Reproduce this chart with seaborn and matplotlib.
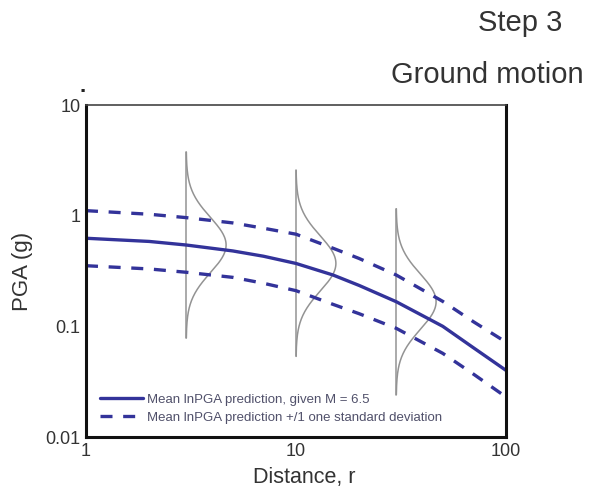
import numpy as np
import pandas as pd
import matplotlib
matplotlib.use("Agg")
import matplotlib.pyplot as plt
import seaborn as sns

# ---- data ----
distance = [1, 2, 3, 5, 7, 10, 15, 20, 30, 50, 70, 100]
mean_pga = [0.625, 0.585, 0.543, 0.48, 0.43, 0.37, 0.291, 0.234, 0.167, 0.10, 0.064, 0.040]
upper_pga = [1.11, 1.03, 0.96, 0.86, 0.77, 0.68, 0.508, 0.41, 0.291, 0.168, 0.11, 0.072]
lower_pga = [0.353, 0.33, 0.308, 0.277, 0.245, 0.21, 0.158, 0.13, 0.096, 0.057, 0.037, 0.023]
pdf_distances = [3, 10, 30]          # where the lognormal distributions are drawn
pdf_centres = [0.543, 0.37, 0.167]
sigma_log10 = 0.25                   # one standard deviation, in log10 units
pdf_halfspan = 0.84                  # truncation, in log10 units
pdf_width = 0.19                     # peak width, in decades of distance

x_ticks = [1, 10, 100]
x_ticklabels = ["1", "10", "100"]
y_ticks = [0.01, 0.1, 1, 10]
y_ticklabels = ["0.01", "0.1", "1", "10"]

label_mean = "Mean lnPGA prediction, given M = 6.5"
label_sd = "Mean lnPGA prediction +/1 one standard deviation"

sns.set_theme(style="white")
plt.rcParams["font.family"] = ["Liberation Sans", "DejaVu Sans"]

W, H = 589, 492
fig = plt.figure(figsize=(W / 100, H / 100), dpi=100)
L, R, T, B = 86, 506, 105, 437
ax = fig.add_axes([L / W, 1 - B / H, (R - L) / W, (B - T) / H])

blue = "#33339a"
df = pd.DataFrame({"r": distance, "mean": mean_pga, "up": upper_pga, "lo": lower_pga})

sns.lineplot(data=df, x="r", y="mean", ax=ax, color=blue, lw=2.4, label=label_mean)
sns.lineplot(data=df, x="r", y="up", ax=ax, color=blue, lw=2.4, label=label_sd)
sns.lineplot(data=df, x="r", y="lo", ax=ax, color=blue, lw=2.4)
for ln in ax.lines[1:3]:
    ln.set_dashes((3.6, 3.2))

# lognormal distributions
for r0, c in zip(pdf_distances, pdf_centres):
    z = np.linspace(-pdf_halfspan, pdf_halfspan, 200)
    dens = np.exp(-0.5 * (z / sigma_log10) ** 2)
    ys = c * 10 ** z
    xs = r0 * 10 ** (pdf_width * dens)
    ax.plot(xs, ys, color="#939393", lw=1.1, zorder=1)
    ax.plot([r0, r0], [ys[0], ys[-1]], color="#939393", lw=1.1, zorder=1)

ax.set_xscale("log")
ax.set_yscale("log")
ax.set_xlim(1, 100)
ax.set_ylim(0.01, 10)
ax.set_xticks(x_ticks)
ax.set_xticklabels(x_ticklabels)
ax.set_yticks(y_ticks)
ax.set_yticklabels(y_ticklabels)
ax.minorticks_off()
ax.tick_params(axis="both", which="major", direction="in", length=4, width=1,
               labelsize=13, colors="#333333", pad=4)
ax.set_xlabel("Distance, r", fontsize=15.5, color="#333333", va="center")
ax.xaxis.set_label_coords(0.52, -(478 - B) / (B - T))
ax.set_ylabel("PGA (g)", fontsize=16, color="#333333")
ax.yaxis.set_label_coords(-(L - 33) / (R - L), 0.5)

for side in ["left", "bottom", "right"]:
    ax.spines[side].set_color("#111111")
    ax.spines[side].set_linewidth(2.2)
ax.spines["top"].set_color("#444444")
ax.spines["top"].set_linewidth(1.2)

handles, labels = ax.get_legend_handles_labels()
leg = ax.legend(handles[:2], labels[:2], loc="lower left", frameon=False,
                fontsize=9.5, handlelength=3.3, borderaxespad=0.0,
                labelspacing=0.45, handletextpad=0.25,
                bbox_to_anchor=(0.02, 0.024))
for t in leg.get_texts():
    t.set_color("#50506a")
leg.get_lines()[1].set_dashes((3.6, 3.2))

fig.text(562 / W, 1 - 31 / H, "Step 3", ha="right", va="baseline",
         fontsize=21, color="#333333")
fig.text(584 / W, 1 - 83 / H, "Ground motion", ha="right", va="baseline",
         fontsize=21, color="#333333")
fig.text(83 / W, 1 - 86 / H, ".", ha="center", va="center",
         fontsize=16, fontweight="bold", color="#222222")

fig.savefig("out.png", dpi=100, facecolor="white")
